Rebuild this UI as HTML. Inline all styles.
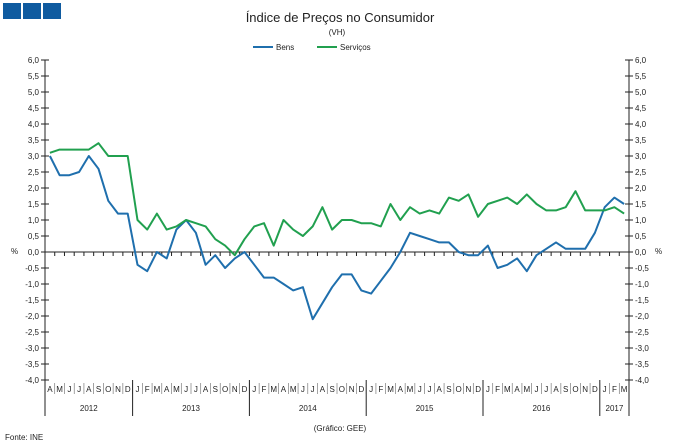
<!DOCTYPE html>
<html><head><meta charset="utf-8"><style>
body{margin:0;background:#fff;}
svg{display:block;font-family:"Liberation Sans",sans-serif;}
</style></head><body>
<svg id="chart" width="680" height="446" viewBox="0 0 680 446">
<rect x="3" y="3" width="18" height="16" fill="#0f5ba0"/>
<rect x="23" y="3" width="18" height="16" fill="#0f5ba0"/>
<rect x="43" y="3" width="18" height="16" fill="#0f5ba0"/>
<text x="340" y="22" text-anchor="middle" font-size="13" fill="#222">Índice de Preços no Consumidor</text>
<text x="337" y="35" text-anchor="middle" font-size="8" fill="#222">(VH)</text>
<g>
<line x1="253" y1="47" x2="273" y2="47" stroke="#1f6fad" stroke-width="2"/>
<text x="276" y="50" font-size="8" fill="#222">Bens</text>
<line x1="317" y1="47" x2="337" y2="47" stroke="#21a04f" stroke-width="2"/>
<text x="340" y="50" font-size="8" fill="#222">Serviços</text>
</g>
<g id="axes"></g>
<g id="series"></g>
<text x="5" y="440" font-size="8" fill="#222">Fonte: INE</text>
<text x="340" y="431" text-anchor="middle" font-size="8" fill="#222">(Gráfico: GEE)</text>
</svg>
<script>
const months = ["A","M","J","J","A","S","O","N","D","J","F","M","A","M","J","J","A","S","O","N","D","J","F","M","A","M","J","J","A","S","O","N","D","J","F","M","A","M","J","J","A","S","O","N","D","J","F","M","A","M","J","J","A","S","O","N","D","J","F","M"];
const years = [{label:"2012",start:0,count:9},{label:"2013",start:9,count:12},{label:"2014",start:21,count:12},{label:"2015",start:33,count:12},{label:"2016",start:45,count:12},{label:"2017",start:57,count:3}];
const bens = [3.0,2.4,2.4,2.5,3.0,2.6,1.6,1.2,1.2,-0.4,-0.6,0.0,-0.2,0.7,1.0,0.6,-0.4,-0.1,-0.5,-0.2,0.0,-0.4,-0.8,-0.8,-1.0,-1.2,-1.1,-2.1,-1.6,-1.1,-0.7,-0.7,-1.2,-1.3,-0.9,-0.5,0.0,0.6,0.5,0.4,0.3,0.3,0.0,-0.1,-0.1,0.2,-0.5,-0.4,-0.2,-0.6,-0.1,0.1,0.3,0.1,0.1,0.1,0.6,1.4,1.7,1.5];
const servicos = [3.1,3.2,3.2,3.2,3.2,3.4,3.0,3.0,3.0,1.0,0.7,1.2,0.7,0.8,1.0,0.9,0.8,0.4,0.2,-0.1,0.4,0.8,0.9,0.2,1.0,0.7,0.5,0.8,1.4,0.7,1.0,1.0,0.9,0.9,0.8,1.5,1.0,1.4,1.2,1.3,1.2,1.7,1.6,1.8,1.1,1.5,1.6,1.7,1.5,1.8,1.5,1.3,1.3,1.4,1.9,1.3,1.3,1.3,1.4,1.2];
const yTicks = [6,5.5,5,4.5,4,3.5,3,2.5,2,1.5,1,0.5,0,-0.5,-1,-1.5,-2,-2.5,-3,-3.5,-4];

const L=45,R=629,T=60,B=380,yMin=-4,yMax=6;
const n=months.length, bw=(R-L)/n;
const x=i=>L+bw*(i+0.5);
const y=v=>T+(yMax-v)/(yMax-yMin)*(B-T);
const NS="http://www.w3.org/2000/svg";
const ax=document.getElementById('axes'), se=document.getElementById('series');
function mk(tag,attrs,parent,txt){const e=document.createElementNS(NS,tag);for(const k in attrs)e.setAttribute(k,attrs[k]);if(txt!==undefined)e.textContent=txt;parent.appendChild(e);return e;}
const fmt=v=>v.toFixed(1).replace('.',',');
let e;
e=mk('line',{x1:L,y1:T,x2:L,y2:B,stroke:'#222','stroke-width':1},ax);


e=mk('line',{x1:R,y1:T,x2:R,y2:B,stroke:'#222','stroke-width':1},ax);


yTicks.forEach(v=>{
  mk('line',{x1:L-4,y1:y(v),x2:L+4,y2:y(v),stroke:'#222'},ax);
  mk('line',{x1:R-4,y1:y(v),x2:R+4,y2:y(v),stroke:'#222'},ax);
  e=mk('text',{x:L-6,y:y(v)+3,'text-anchor':'end','font-size':8,fill:'#222'},ax,fmt(v));
  
  
  e=mk('text',{x:R+6,y:y(v)+3,'font-size':8,fill:'#222'},ax,fmt(v));
  
  
});
e=mk('text',{x:11,y:y(0)+2,'font-size':8,fill:'#222'},ax,'%');


e=mk('text',{x:R+26,y:y(0)+2,'font-size':8,fill:'#222'},ax,'%');


e=mk('line',{x1:L,y1:y(0),x2:R,y2:y(0),stroke:'#222'},ax);


for(let i=1;i<n;i++){mk('line',{x1:L+bw*i,y1:y(0),x2:L+bw*i,y2:y(0)+4,stroke:'#222'},ax);}
months.forEach((m,i)=>{
  e=mk('text',{x:x(i),y:B+12,'text-anchor':'middle','font-size':8,fill:'#222'},ax,m);
  
  
  if(i>0) mk('line',{x1:L+bw*i,y1:B+3,x2:L+bw*i,y2:B+14,stroke:'#666','stroke-width':0.6},ax);
});
years.forEach(yr=>{
  const xs=L+bw*yr.start, xe=L+bw*(yr.start+yr.count);
  mk('line',{x1:xs,y1:B,x2:xs,y2:B+36,stroke:'#222'},ax);
  e=mk('text',{x:(xs+xe)/2,y:B+31,'text-anchor':'middle','font-size':8,fill:'#222'},ax,yr.label);
  
  
});
mk('line',{x1:R,y1:B,x2:R,y2:B+36,stroke:'#222'},ax);
function line(data,color,name){
  const p=mk('polyline',{points:data.map((v,i)=>x(i).toFixed(1)+','+y(v).toFixed(1)).join(' '),fill:'none',stroke:color,'stroke-width':2,'stroke-linejoin':'round'},se);
  
  
}
line(bens,'#1f6fad','bens-line');
line(servicos,'#21a04f','servicos-line');
</script>
</body></html>
